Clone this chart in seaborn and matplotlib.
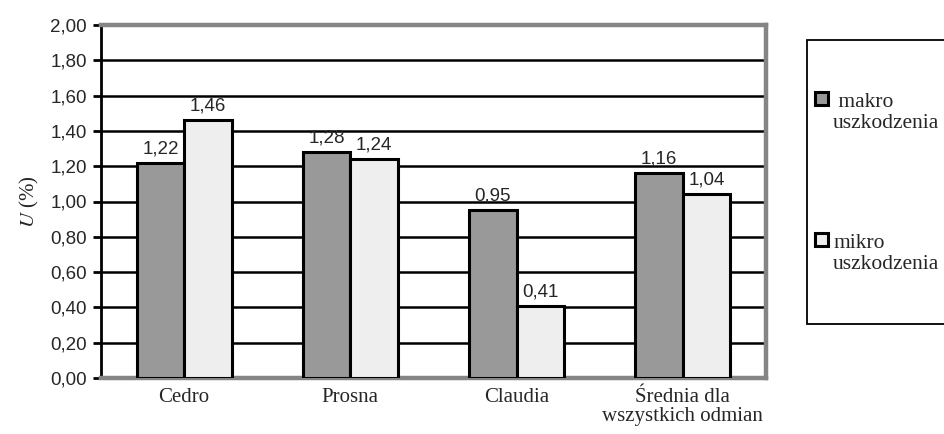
import pandas as pd
import numpy as np
import matplotlib
matplotlib.use("Agg")
import matplotlib.pyplot as plt
import seaborn as sns
from matplotlib.patches import Rectangle

# data
odmiany = ['Cedro', 'Prosna', 'Claudia', 'Średnia dla\nwszystkich odmian']
makro = [1.22, 1.28, 0.95, 1.16]
mikro = [1.46, 1.24, 0.41, 1.04]
typy = [' makro\nuszkodzenia', 'mikro\nuszkodzenia']
kolory = ['#999999', '#eeeeee']
y_ticks = [0.0, 0.2, 0.4, 0.6, 0.8, 1.0, 1.2, 1.4, 1.6, 1.8, 2.0]

df = pd.DataFrame({
    'odmiana': odmiany * 2,
    'U': makro + mikro,
    'typ': [typy[0]] * 4 + [typy[1]] * 4,
})

sns.set_style('white')
plt.rcParams['font.family'] = ['Liberation Sans', 'DejaVu Sans']
plt.rcParams['mathtext.fontset'] = 'stix'

W, H = 945, 434
fig = plt.figure(figsize=(W / 100, H / 100), dpi=100)
ax = fig.add_axes([101 / W, 1 - 378 / H, 665 / W, 353 / H])

sns.barplot(data=df, x='odmiana', y='U', hue='typ', hue_order=typy,
            palette=kolory, edgecolor='black', linewidth=2.2,
            width=0.57, gap=0, saturation=1, ax=ax, zorder=3, legend=False)

# value labels with comma decimals
for cont, vals in zip(ax.containers, [makro, mikro]):
    ax.bar_label(cont, labels=[f"{v:.2f}".replace('.', ',') for v in vals],
                 padding=4, fontsize=13.5, fontfamily='Liberation Sans')

ax.set_ylim(0, 2.0)
ax.set_xlim(-0.5, 3.5)
ax.set_yticks(y_ticks)
ax.set_yticklabels([f"{t:.2f}".replace('.', ',') for t in y_ticks], fontsize=13.5)
ax.yaxis.grid(True, color='black', linewidth=1.8)
ax.set_axisbelow(True)

ax.set_xticks(range(4))
ax.set_xticklabels(odmiany, fontfamily='Liberation Serif', fontsize=15, linespacing=1.0)
ax.set_xticks([-0.5, 0.5, 1.5, 2.5, 3.5], minor=True)
ax.tick_params(axis='x', which='major', length=0, pad=7)
ax.tick_params(axis='x', which='minor', length=6, width=2, color='black', direction='out')
ax.tick_params(axis='y', which='major', length=6, width=2, color='black', direction='out', left=True, pad=4)

ax.set_xlabel('')
ax.set_ylabel('$U$ (%)', fontfamily='Liberation Serif', fontsize=15, labelpad=7)

for side in ['top', 'right', 'bottom']:
    ax.spines[side].set_color('#858585')
    ax.spines[side].set_linewidth(3.2)
ax.spines['left'].set_color('black')
ax.spines['left'].set_linewidth(2)

# legend box drawn by hand so the handle sits on the first text line
def fx(px):
    return px / W

def fy(py):
    return 1 - py / H

fig.patches.append(Rectangle((fx(807), fy(324)), fx(160), (324 - 40) / H,
                             transform=fig.transFigure, facecolor='white',
                             edgecolor='black', linewidth=1.3, clip_on=False))
for lab, kol, top in zip(typy, kolory, [92, 233]):
    fig.patches.append(Rectangle((fx(815), fy(top + 13)), 13 / W, 13 / H,
                                 transform=fig.transFigure, facecolor=kol,
                                 edgecolor='black', linewidth=2.2))
    fig.text(fx(833), fy(top + 1), lab, fontfamily='Liberation Serif',
             fontsize=15.5, va='top', ha='left', linespacing=1.15)

fig.savefig('out.png', dpi=100)
